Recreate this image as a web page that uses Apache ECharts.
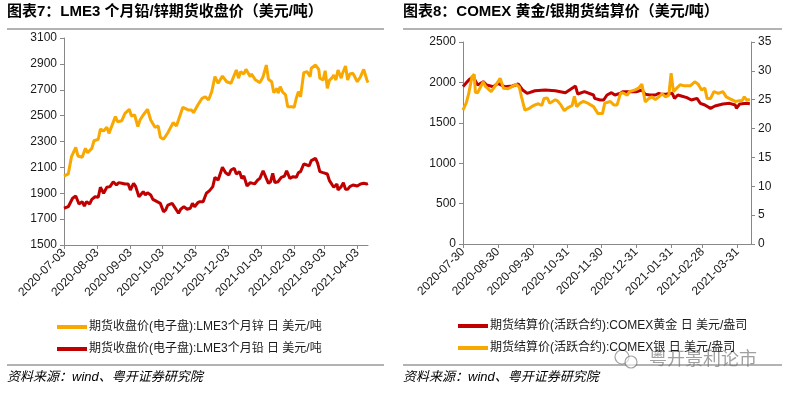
<!DOCTYPE html>
<html><head><meta charset="utf-8">
<script src="https://cdn.jsdelivr.net/npm/echarts@6/dist/echarts.min.js"></script>
<style>html,body{margin:0;padding:0;background:#fff}#c{width:789px;height:395px}</style>
</head><body><div id="c"></div>
<script>
// ---------- Chart 7 : LME3 zinc / lead ----------
const leftTickLabels = ['2020-07-03','2020-08-03','2020-09-03','2020-10-03','2020-11-03','2020-12-03','2021-01-03','2021-02-03','2021-03-03','2021-04-03'];
const zincDates = ['2020-07-03','2020-07-07','2020-07-10','2020-07-14','2020-07-16','2020-07-20','2020-07-23','2020-07-25','2020-07-29','2020-07-31',
'2020-08-04','2020-08-06','2020-08-09','2020-08-12','2020-08-14','2020-08-20','2020-08-22','2020-08-26','2020-08-29','2020-09-02',
'2020-09-04','2020-09-07','2020-09-10','2020-09-12','2020-09-15','2020-09-19','2020-09-22','2020-09-26','2020-09-29','2020-10-01',
'2020-10-04','2020-10-08','2020-10-13','2020-10-16','2020-10-19','2020-10-22','2020-10-27','2020-10-30','2020-11-01','2020-11-05',
'2020-11-09','2020-11-12','2020-11-15','2020-11-18','2020-11-21','2020-11-24','2020-11-28','2020-12-02','2020-12-06','2020-12-11',
'2020-12-13','2020-12-15','2020-12-18','2020-12-20','2020-12-24','2020-12-25','2020-12-29','2021-01-02','2021-01-05','2021-01-08',
'2021-01-10','2021-01-13','2021-01-15','2021-01-18','2021-01-19','2021-01-21','2021-01-23','2021-01-26','2021-01-28','2021-02-01',
'2021-02-03','2021-02-05','2021-02-07','2021-02-09','2021-02-12','2021-02-15','2021-02-18','2021-02-19','2021-02-23','2021-02-26',
'2021-02-27','2021-03-02','2021-03-04','2021-03-06','2021-03-08','2021-03-10','2021-03-12','2021-03-14','2021-03-16','2021-03-19',
'2021-03-20','2021-03-23','2021-03-25','2021-03-27','2021-03-30','2021-04-03','2021-04-06','2021-04-09','2021-04-12','2021-04-13'];
const zincValues = [2033,2049,2183,2255,2188,2178,2247,2213,2247,2306,
2317,2397,2381,2410,2363,2492,2453,2461,2518,2549,
2497,2505,2415,2466,2505,2549,2466,2410,2420,2333,
2317,2368,2446,2420,2492,2564,2544,2544,2523,2582,
2634,2646,2621,2685,2801,2750,2806,2762,2750,2853,
2789,2840,2822,2858,2801,2822,2775,2755,2801,2891,
2781,2762,2677,2711,2673,2724,2685,2660,2569,2569,
2564,2634,2685,2646,2832,2840,2801,2866,2891,2858,
2789,2775,2847,2711,2775,2789,2814,2775,2853,2789,
2822,2884,2775,2822,2827,2762,2801,2858,2775,2755];
const leadDates = ['2020-07-03','2020-07-07','2020-07-11','2020-07-14','2020-07-17','2020-07-20','2020-07-22','2020-07-24','2020-07-27','2020-07-29',
'2020-08-01','2020-08-04','2020-08-06','2020-08-09','2020-08-12','2020-08-15','2020-08-18','2020-08-21','2020-08-23','2020-08-26',
'2020-08-29','2020-09-01','2020-09-03','2020-09-06','2020-09-08','2020-09-11','2020-09-15','2020-09-17','2020-09-19','2020-09-22',
'2020-09-24','2020-09-28','2020-10-01','2020-10-04','2020-10-06','2020-10-08','2020-10-12','2020-10-13','2020-10-16','2020-10-18',
'2020-10-20','2020-10-23','2020-10-26','2020-10-29','2020-10-31','2020-11-02','2020-11-05','2020-11-07','2020-11-10','2020-11-13',
'2020-11-16','2020-11-19','2020-11-21','2020-11-24','2020-11-28','2020-12-01','2020-12-04','2020-12-06','2020-12-09','2020-12-11',
'2020-12-14','2020-12-16','2020-12-18','2020-12-21','2020-12-24','2020-12-28','2020-12-31','2021-01-02','2021-01-05','2021-01-08',
'2021-01-10','2021-01-12','2021-01-14','2021-01-16','2021-01-19','2021-01-22','2021-01-25','2021-01-27','2021-01-30','2021-02-02',
'2021-02-05','2021-02-07','2021-02-09','2021-02-12','2021-02-15','2021-02-17','2021-02-19','2021-02-23','2021-02-25','2021-02-27',
'2021-03-02','2021-03-06','2021-03-08','2021-03-10','2021-03-12','2021-03-15','2021-03-16','2021-03-19','2021-03-21','2021-03-23',
'2021-03-25','2021-03-27','2021-03-30','2021-04-03','2021-04-06','2021-04-09','2021-04-12','2021-04-13'];
const leadValues = [1784,1796,1861,1879,1817,1835,1801,1835,1817,1853,
1873,1869,1946,1900,1946,1951,1989,1964,1982,1977,
1972,1972,1925,1977,1951,1873,1912,1887,1904,1887,
1853,1835,1822,1757,1771,1809,1822,1835,1771,1745,
1776,1796,1776,1784,1822,1796,1827,1835,1835,1900,
1920,1951,2023,2002,2101,2059,2041,2080,2093,2049,
2067,2015,2033,1956,1982,1972,2002,2015,2074,2015,
1977,1989,2054,1982,1989,2023,2033,2074,2015,2028,
2023,2059,2067,2126,2118,2111,2152,2170,2131,2067,
2059,2049,1997,1972,1946,1972,1925,1951,1982,1930,
1930,1951,1964,1956,1972,1977,1972,1975];

// ---------- Chart 8 : COMEX gold / silver ----------
const rightTickLabels = ['2020-07-30','2020-08-30','2020-09-30','2020-10-31','2020-11-30','2020-12-31','2021-01-31','2021-02-28','2021-03-31'];
const goldDates = ['2020-07-30','2020-08-02','2020-08-05','2020-08-08','2020-08-12','2020-08-17','2020-08-20','2020-08-26','2020-08-30','2020-09-05',
'2020-09-12','2020-09-17','2020-09-21','2020-09-25','2020-10-02','2020-10-11','2020-10-20','2020-10-29','2020-11-07','2020-11-09',
'2020-11-15','2020-11-23','2020-11-24','2020-11-29','2020-12-02','2020-12-05','2020-12-09','2020-12-12','2020-12-17','2020-12-19',
'2020-12-24','2020-12-31','2021-01-05','2021-01-08','2021-01-12','2021-01-17','2021-01-20','2021-01-23','2021-01-27','2021-02-01',
'2021-02-03','2021-02-06','2021-02-09','2021-02-14','2021-02-18','2021-02-23','2021-02-26','2021-03-02','2021-03-07','2021-03-11',
'2021-03-18','2021-03-24','2021-03-29','2021-03-30','2021-04-02','2021-04-08','2021-04-11'];
const goldValues = [1950,1997,2040,2071,1968,2009,1968,1947,1989,1947,
1955,1980,1906,1865,1897,1906,1897,1873,1955,1856,
1885,1844,1803,1782,1782,1844,1873,1844,1865,1885,
1885,1885,1906,1852,1844,1844,1865,1852,1856,1865,
1803,1844,1832,1811,1782,1803,1741,1720,1679,1708,
1733,1741,1720,1679,1733,1741,1735];
const silverDates = ['2020-07-30','2020-08-02','2020-08-04','2020-08-07','2020-08-09','2020-08-10','2020-08-12','2020-08-14','2020-08-17','2020-08-19',
'2020-08-24','2020-08-29','2020-09-01','2020-09-04','2020-09-08','2020-09-12','2020-09-15','2020-09-18','2020-09-20','2020-09-23',
'2020-09-26','2020-09-29','2020-10-02','2020-10-05','2020-10-06','2020-10-08','2020-10-10','2020-10-13','2020-10-15','2020-10-20',
'2020-10-22','2020-10-25','2020-10-28','2020-10-31','2020-11-04','2020-11-06','2020-11-08','2020-11-11','2020-11-14','2020-11-18',
'2020-11-23','2020-11-27','2020-12-01','2020-12-03','2020-12-08','2020-12-11','2020-12-14','2020-12-17','2020-12-19','2020-12-23',
'2020-12-25','2020-12-30','2021-01-02','2021-01-05','2021-01-08','2021-01-11','2021-01-14','2021-01-17','2021-01-20','2021-01-23',
'2021-01-26','2021-01-29','2021-01-30','2021-01-31','2021-02-02','2021-02-05','2021-02-08','2021-02-12','2021-02-17','2021-02-21',
'2021-02-24','2021-02-27','2021-03-02','2021-03-04','2021-03-07','2021-03-10','2021-03-14','2021-03-18','2021-03-21','2021-03-24',
'2021-03-29','2021-04-01','2021-04-04','2021-04-06','2021-04-08','2021-04-11'];
const silverValues = [23.2,24.5,26.0,29.0,29.4,26.3,26.2,27.0,28.1,27.3,
26.4,27.8,28.7,27.0,26.9,27.3,27.7,27.2,25.5,23.2,
23.4,23.8,24.1,24.3,24.4,24.0,25.2,25.3,24.4,25.0,
24.8,24.1,23.1,23.6,24.0,25.6,23.8,24.4,24.7,24.4,
23.8,22.6,22.6,24.4,24.7,24.1,24.1,26.1,26.2,25.8,
26.4,26.7,27.0,27.7,24.6,25.2,25.5,25.0,25.5,26.0,
25.5,25.8,27.8,29.6,26.4,27.0,27.6,27.4,27.4,28.1,
27.7,26.7,27.0,25.2,25.2,26.4,26.1,26.4,25.5,25.2,
24.7,24.8,24.8,25.5,25.0,25.0];

const seriesNames = {
  zinc: '期货收盘价(电子盘):LME3个月锌 日 美元/吨',
  lead: '期货收盘价(电子盘):LME3个月铅 日 美元/吨',
  gold: '期货结算价(活跃合约):COMEX黄金 日 美元/盎司',
  silver: '期货结算价(活跃合约):COMEX银 日 美元/盎司'
};

// ---------- build ----------
function buildDays(start, end) {
  const out = [];
  const p = s => s.split('-').map(Number);
  const a = p(start), b = p(end);
  let t = Date.UTC(a[0], a[1]-1, a[2]);
  const te = Date.UTC(b[0], b[1]-1, b[2]);
  while (t <= te) {
    const d = new Date(t);
    out.push(d.getUTCFullYear() + '-' + String(d.getUTCMonth()+1).padStart(2,'0') + '-' + String(d.getUTCDate()).padStart(2,'0'));
    t += 86400000;
  }
  return out;
}
const leftDays = buildDays('2020-07-03', '2021-04-13');
const rightDays = buildDays('2020-07-30', '2021-04-12');
const pairs = (d, v) => d.map((x, i) => [x, v[i]]);

const FONT = '"Liberation Sans", Arial, "Noto Sans CJK SC", sans-serif';
const ORANGE = '#F9A800';
const RED = '#C00000';
const AXIS = '#888888';
const TXT = '#1a1a1a';

function xAxisFor(grid, days, labels) {
  const set = new Set(labels);
  return {
    type: 'category', gridIndex: grid, data: days, boundaryGap: false,
    axisLine: { lineStyle: { color: AXIS, width: 1 } },
    axisTick: { show: true, length: 4, interval: (i, v) => set.has(v), lineStyle: { color: AXIS } },
    axisLabel: { interval: (i, v) => set.has(v), rotate: 45, fontSize: 12, color: TXT, fontFamily: FONT, margin: 6 },
    splitLine: { show: false }
  };
}
function yAxisFor(grid, min, max, interval, pos) {
  return {
    type: 'value', gridIndex: grid, min, max, interval, position: pos || 'left',
    axisLine: { show: true, lineStyle: { color: AXIS, width: 1 } },
    axisTick: { show: true, length: 4, lineStyle: { color: AXIS } },
    axisLabel: { fontSize: 12, color: TXT, fontFamily: FONT, margin: 7, formatter: v => String(v) },
    splitLine: { show: false }
  };
}
const lineSeries = (name, data, color, xi, yi) => ({
  name, type: 'line', data, xAxisIndex: xi, yAxisIndex: yi,
  showSymbol: false, symbol: 'none', lineStyle: { color, width: 3 }, itemStyle: { color },
  emphasis: { disabled: true }, animation: false
});

const chart = echarts.init(document.getElementById('c'), null, { renderer: 'canvas' });
const legendCommon = {
  orient: 'vertical', icon: 'rect', itemWidth: 30, itemHeight: 4, itemGap: 8, padding: 0,
  textStyle: { fontSize: 12, color: TXT, fontFamily: FONT, lineHeight: 14, padding: [0, 0, 0, -3] },
  selectedMode: false
};
chart.setOption({
  animation: false,
  textStyle: { fontFamily: FONT },
  grid: [
    { left: 64, top: 38, width: 304, height: 207 },
    { left: 463, top: 42, width: 288, height: 202 }
  ],
  xAxis: [ xAxisFor(0, leftDays, leftTickLabels), xAxisFor(1, rightDays, rightTickLabels) ],
  yAxis: [
    yAxisFor(0, 1500, 3100, 200),
    yAxisFor(1, 0, 2500, 500, 'left'),
    yAxisFor(1, 0, 35, 5, 'right')
  ],
  legend: [
    Object.assign({ data: [seriesNames.zinc, seriesNames.lead], left: 57, top: 320 }, legendCommon),
    Object.assign({ data: [seriesNames.gold, seriesNames.silver], left: 458, top: 319, itemGap: 7 }, legendCommon)
  ],
  series: [
    lineSeries(seriesNames.zinc, pairs(zincDates, zincValues), ORANGE, 0, 0),
    lineSeries(seriesNames.lead, pairs(leadDates, leadValues), RED, 0, 0),
    lineSeries(seriesNames.gold, pairs(goldDates, goldValues), RED, 1, 1),
    lineSeries(seriesNames.silver, pairs(silverDates, silverValues), ORANGE, 1, 2)
  ],
  graphic: [
    { type: 'text', left: 7, top: 4, style: { text: '图表7：LME3 个月铅/锌期货收盘价（美元/吨）', font: 'bold 15px ' + FONT, fill: '#000' } },
    { type: 'text', left: 403, top: 4, style: { text: '图表8：COMEX 黄金/银期货结算价（美元/吨）', font: 'bold 15px ' + FONT, fill: '#000' } },
    { type: 'line', shape: { x1: 7, y1: 29, x2: 384, y2: 29 }, style: { stroke: '#9a9a9a', lineWidth: 1.5 } },
    { type: 'line', shape: { x1: 403, y1: 29, x2: 782, y2: 29 }, style: { stroke: '#9a9a9a', lineWidth: 1.5 } },
    { type: 'line', shape: { x1: 7, y1: 365, x2: 384, y2: 365 }, style: { stroke: '#9a9a9a', lineWidth: 1.5 } },
    { type: 'line', shape: { x1: 403, y1: 365, x2: 782, y2: 365 }, style: { stroke: '#9a9a9a', lineWidth: 1.5 } },
    { type: 'text', left: 7, top: 371, style: { text: '资料来源：wind、粤开证券研究院', font: 'italic 13px ' + FONT, fill: '#000' } },
    { type: 'text', left: 403, top: 371, style: { text: '资料来源：wind、粤开证券研究院', font: 'italic 13px ' + FONT, fill: '#000' } },
    { type: 'circle', shape: { cx: 622, cy: 357, r: 7 }, style: { fill: 'none', stroke: 'rgba(110,110,110,0.65)', lineWidth: 1.2 } },
    { type: 'circle', shape: { cx: 631, cy: 362, r: 6 }, style: { fill: 'rgba(255,255,255,0.6)', stroke: 'rgba(110,110,110,0.65)', lineWidth: 1.2 } },
    { type: 'text', left: 649, top: 349, style: { text: '粤开景利论市', font: '18px "Noto Sans CJK SC", sans-serif', fill: 'rgba(120,120,120,0.7)' } }
  ]
});
</script></body></html>
